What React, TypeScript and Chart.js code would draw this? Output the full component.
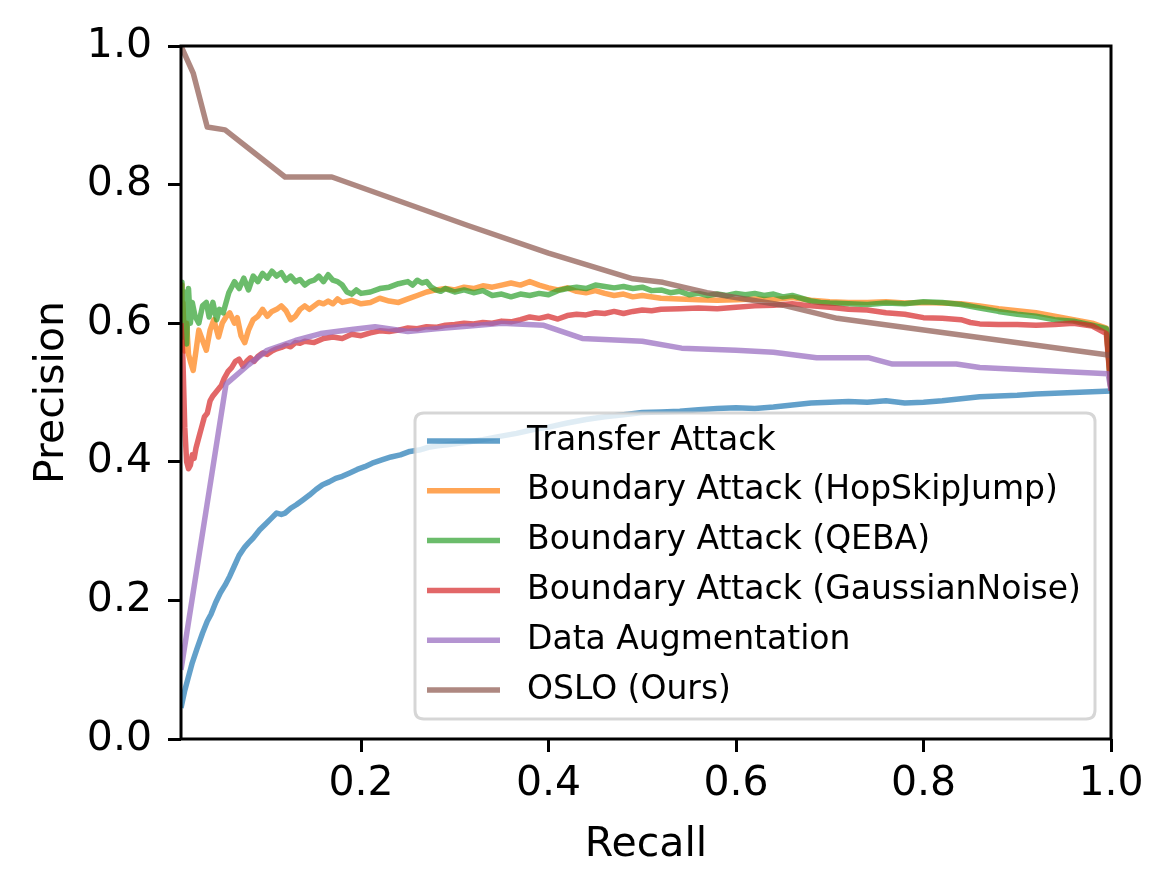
import React, { useEffect, useRef } from "react";
import { Chart, registerables } from "chart.js";

Chart.register(...registerables);

// ---------- data ----------
const seriesLabels = [
  "Transfer Attack",
  "Boundary Attack (HopSkipJump)",
  "Boundary Attack (QEBA)",
  "Boundary Attack (GaussianNoise)",
  "Data Augmentation",
  "OSLO (Ours)",
];

const xTickValues = [0.2, 0.4, 0.6, 0.8, 1.0];
const yTickStep = 0.2;

const transferRecall = [0.008, 0.012, 0.016, 0.02, 0.025, 0.031, 0.036, 0.04, 0.045, 0.05, 0.055, 0.06, 0.065, 0.07, 0.076, 0.08, 0.085, 0.092, 0.098, 0.104, 0.11, 0.115, 0.119, 0.125, 0.131, 0.138, 0.145, 0.152, 0.159, 0.166, 0.173, 0.18, 0.188, 0.196, 0.204, 0.212, 0.223, 0.232, 0.242, 0.252, 0.262, 0.272, 0.282, 0.294, 0.306, 0.316, 0.33, 0.345, 0.366, 0.385, 0.4, 0.42, 0.44, 0.46, 0.48, 0.5, 0.52, 0.54, 0.56, 0.58, 0.6, 0.62, 0.64, 0.66, 0.68, 0.7, 0.72, 0.74, 0.76, 0.78, 0.8, 0.82, 0.84, 0.86, 0.88, 0.9, 0.92, 0.94, 0.96, 0.98, 1.0];
const transferPrecision = [0.045, 0.07, 0.09, 0.11, 0.13, 0.153, 0.17, 0.18, 0.197, 0.211, 0.222, 0.235, 0.25, 0.265, 0.277, 0.283, 0.29, 0.302, 0.31, 0.318, 0.326, 0.324, 0.326, 0.333, 0.338, 0.345, 0.352, 0.36, 0.367, 0.371, 0.376, 0.379, 0.384, 0.389, 0.393, 0.398, 0.403, 0.407, 0.41, 0.415, 0.417, 0.421, 0.423, 0.425, 0.427, 0.429, 0.432, 0.436, 0.441, 0.447, 0.45, 0.456, 0.461, 0.465, 0.468, 0.471, 0.472, 0.473, 0.475, 0.477, 0.478, 0.477, 0.479, 0.482, 0.485, 0.486, 0.487, 0.486, 0.488, 0.485, 0.486, 0.488, 0.491, 0.494, 0.495, 0.496, 0.498, 0.499, 0.5, 0.501, 0.502];

const hsjRecall = [0.008, 0.009, 0.01, 0.012, 0.014, 0.016, 0.018, 0.021, 0.024, 0.027, 0.031, 0.035, 0.039, 0.043, 0.048, 0.052, 0.056, 0.06, 0.065, 0.068, 0.072, 0.076, 0.08, 0.085, 0.09, 0.095, 0.1, 0.105, 0.11, 0.115, 0.12, 0.125, 0.13, 0.135, 0.14, 0.145, 0.15, 0.155, 0.16, 0.165, 0.17, 0.175, 0.18, 0.19, 0.2, 0.21, 0.22, 0.23, 0.24, 0.25, 0.26, 0.27, 0.28, 0.29, 0.3, 0.31, 0.32, 0.33, 0.34, 0.35, 0.36, 0.37, 0.38, 0.39, 0.4, 0.41, 0.42, 0.43, 0.44, 0.45, 0.46, 0.47, 0.48, 0.49, 0.5, 0.52, 0.54, 0.56, 0.58, 0.6, 0.62, 0.64, 0.66, 0.68, 0.7, 0.72, 0.74, 0.76, 0.78, 0.8, 0.82, 0.84, 0.86, 0.88, 0.9, 0.92, 0.94, 0.96, 0.98, 0.995, 1.0];
const hsjPrecision = [0.655, 0.6, 0.63, 0.56, 0.6, 0.555, 0.545, 0.532, 0.56, 0.59, 0.575, 0.561, 0.59, 0.605, 0.58, 0.6, 0.609, 0.615, 0.6, 0.608, 0.582, 0.572, 0.59, 0.605, 0.61, 0.62, 0.61, 0.617, 0.62, 0.625, 0.618, 0.605, 0.61, 0.62, 0.625, 0.62, 0.625, 0.63, 0.628, 0.632, 0.628, 0.635, 0.63, 0.633, 0.628, 0.63, 0.636, 0.632, 0.63, 0.635, 0.64, 0.645, 0.648, 0.65, 0.648, 0.652, 0.65, 0.654, 0.652, 0.655, 0.658, 0.655, 0.66, 0.655, 0.651, 0.648, 0.651, 0.646, 0.644, 0.647, 0.643, 0.64, 0.642, 0.638, 0.64, 0.636, 0.635, 0.634, 0.633, 0.634, 0.635, 0.634, 0.637, 0.633, 0.631, 0.63, 0.63, 0.631, 0.629, 0.63, 0.629, 0.628, 0.625, 0.621, 0.618, 0.615, 0.61, 0.605, 0.6, 0.593, 0.503];

const qebaRecall = [0.008, 0.009, 0.01, 0.012, 0.014, 0.016, 0.018, 0.02, 0.023, 0.027, 0.031, 0.035, 0.038, 0.042, 0.046, 0.049, 0.053, 0.059, 0.065, 0.07, 0.075, 0.08, 0.085, 0.09, 0.095, 0.1, 0.105, 0.11, 0.115, 0.12, 0.125, 0.13, 0.135, 0.14, 0.145, 0.15, 0.155, 0.16, 0.165, 0.17, 0.175, 0.18, 0.185, 0.19, 0.195, 0.2, 0.21, 0.22, 0.23, 0.24, 0.25, 0.255, 0.26, 0.265, 0.27, 0.275, 0.28, 0.285, 0.29, 0.3, 0.31, 0.32, 0.33, 0.34, 0.35, 0.36, 0.37, 0.38, 0.39, 0.4, 0.41, 0.42, 0.43, 0.44, 0.45, 0.46, 0.47, 0.48, 0.49, 0.5, 0.51, 0.52, 0.53, 0.54, 0.55, 0.56, 0.57, 0.58, 0.59, 0.6, 0.61, 0.62, 0.63, 0.64, 0.65, 0.66, 0.67, 0.68, 0.69, 0.7, 0.72, 0.74, 0.76, 0.78, 0.8, 0.82, 0.84, 0.86, 0.88, 0.9, 0.92, 0.94, 0.96, 0.98, 0.995, 1.0];
const qebaPrecision = [0.62, 0.659, 0.58, 0.645, 0.57, 0.65, 0.6, 0.63, 0.61, 0.6, 0.625, 0.63, 0.609, 0.63, 0.605, 0.62, 0.615, 0.644, 0.66, 0.65, 0.665, 0.648, 0.668, 0.66, 0.672, 0.665, 0.675, 0.668, 0.673, 0.662, 0.668, 0.66, 0.663, 0.655, 0.66, 0.662, 0.668, 0.66, 0.67, 0.662, 0.66, 0.655, 0.645, 0.642, 0.648, 0.643, 0.645, 0.65, 0.652, 0.657, 0.66, 0.655, 0.662, 0.658, 0.66, 0.652, 0.648, 0.646, 0.65, 0.645, 0.648, 0.644, 0.647, 0.64, 0.642, 0.638, 0.642, 0.64, 0.643, 0.641, 0.647, 0.65, 0.652, 0.65, 0.655, 0.653, 0.651, 0.653, 0.65, 0.652, 0.647, 0.648, 0.644, 0.646, 0.641, 0.643, 0.64, 0.642, 0.64, 0.643, 0.641, 0.643, 0.64, 0.642, 0.638, 0.64, 0.636, 0.632, 0.63, 0.629, 0.628, 0.627, 0.629, 0.628, 0.631, 0.63, 0.627, 0.622, 0.617, 0.613, 0.61, 0.605, 0.603, 0.597, 0.592, 0.503];

const gaussRecall = [0.008, 0.01, 0.012, 0.014, 0.016, 0.018, 0.02, 0.022, 0.024, 0.026, 0.028, 0.03, 0.033, 0.036, 0.039, 0.042, 0.045, 0.048, 0.051, 0.054, 0.058, 0.062, 0.066, 0.07, 0.074, 0.078, 0.082, 0.086, 0.09, 0.095, 0.1, 0.105, 0.11, 0.115, 0.12, 0.125, 0.13, 0.135, 0.14, 0.15, 0.16, 0.17, 0.18, 0.19, 0.2, 0.21, 0.22, 0.23, 0.24, 0.25, 0.26, 0.27, 0.28, 0.29, 0.3, 0.31, 0.32, 0.33, 0.34, 0.35, 0.36, 0.37, 0.38, 0.39, 0.4, 0.41, 0.42, 0.43, 0.44, 0.45, 0.46, 0.47, 0.48, 0.49, 0.5, 0.51, 0.52, 0.54, 0.56, 0.58, 0.6, 0.62, 0.64, 0.66, 0.68, 0.7, 0.72, 0.74, 0.76, 0.78, 0.8, 0.82, 0.84, 0.85, 0.86, 0.88, 0.9, 0.92, 0.94, 0.96, 0.98, 0.995, 1.0];
const gaussPrecision = [0.6, 0.55, 0.45, 0.4, 0.39, 0.395, 0.41, 0.405, 0.42, 0.43, 0.44, 0.45, 0.465, 0.47, 0.488, 0.495, 0.5, 0.505, 0.51, 0.52, 0.53, 0.536, 0.545, 0.548, 0.538, 0.545, 0.55, 0.545, 0.552, 0.557, 0.555, 0.56, 0.563, 0.565, 0.568, 0.566, 0.572, 0.571, 0.574, 0.572, 0.578, 0.58, 0.578, 0.584, 0.582, 0.586, 0.589, 0.588, 0.59, 0.593, 0.592, 0.595, 0.594, 0.597, 0.598, 0.6, 0.599, 0.601, 0.6, 0.603, 0.602, 0.605, 0.609, 0.607, 0.61, 0.606, 0.611, 0.613, 0.612, 0.615, 0.614, 0.617, 0.614, 0.617, 0.619, 0.618, 0.62, 0.621, 0.622, 0.621, 0.623, 0.625, 0.626, 0.628, 0.625, 0.623, 0.62, 0.619, 0.615, 0.613, 0.608, 0.607, 0.605, 0.601, 0.599, 0.598, 0.598, 0.597, 0.598, 0.6, 0.596, 0.585, 0.503];

const augRecall = [0.008, 0.056, 0.08, 0.1, 0.13, 0.157, 0.19, 0.215, 0.25, 0.28, 0.316, 0.35, 0.395, 0.436, 0.5, 0.542, 0.6, 0.64, 0.686, 0.742, 0.767, 0.835, 0.86, 0.997, 1.0];
const augPrecision = [0.1, 0.512, 0.54, 0.561, 0.575, 0.585, 0.591, 0.595, 0.588, 0.592, 0.596, 0.6, 0.597, 0.578, 0.574, 0.564, 0.561, 0.558, 0.55, 0.55, 0.541, 0.541, 0.536, 0.527, 0.503];

const osloRecall = [0.008, 0.01, 0.021, 0.036, 0.055, 0.119, 0.169, 0.314, 0.4, 0.49, 0.522, 0.569, 0.65, 0.708, 0.997, 1.0];
const osloPrecision = [1.0, 0.994, 0.961, 0.883, 0.879, 0.811, 0.811, 0.741, 0.701, 0.664, 0.659, 0.644, 0.626, 0.607, 0.554, 0.553];

const seriesColors = [
  "rgba(31,119,180,0.7)",
  "rgba(255,127,14,0.7)",
  "rgba(44,160,44,0.7)",
  "rgba(214,39,40,0.7)",
  "rgba(148,103,189,0.7)",
  "rgba(140,86,75,0.7)",
];

const FONT = "'DejaVu Sans', sans-serif";

function pairs(xs: number[], ys: number[]) {
  return xs.map((x, i) => ({ x, y: ys[i] }));
}

const framePlugin = {
  id: "frame",
  afterDatasetsDraw(chart: any) {
    const { ctx, chartArea: a } = chart;
    ctx.save();
    ctx.strokeStyle = "#000";
    ctx.lineWidth = 3;
    ctx.strokeRect(a.left, a.top, a.right - a.left, a.bottom - a.top);
    ctx.restore();
  },
};

const legendPlugin = {
  id: "customLegend",
  afterDraw(chart: any) {
    const { ctx } = chart;
    const boxL = 415, boxT = 413, boxR = 1095, boxB = 719;
    const r = 9;
    ctx.save();
    ctx.beginPath();
    ctx.moveTo(boxL + r, boxT);
    ctx.lineTo(boxR - r, boxT);
    ctx.quadraticCurveTo(boxR, boxT, boxR, boxT + r);
    ctx.lineTo(boxR, boxB - r);
    ctx.quadraticCurveTo(boxR, boxB, boxR - r, boxB);
    ctx.lineTo(boxL + r, boxB);
    ctx.quadraticCurveTo(boxL, boxB, boxL, boxB - r);
    ctx.lineTo(boxL, boxT + r);
    ctx.quadraticCurveTo(boxL, boxT, boxL + r, boxT);
    ctx.closePath();
    ctx.fillStyle = "rgba(255,255,255,0.8)";
    ctx.fill();
    ctx.strokeStyle = "rgba(204,204,204,0.8)";
    ctx.lineWidth = 3;
    ctx.stroke();
    chart.data.datasets.forEach((ds: any, i: number) => {
      const y = 441 + i * 49.8;
      ctx.beginPath();
      ctx.strokeStyle = ds.borderColor;
      ctx.lineWidth = 5.5;
      ctx.lineCap = "butt";
      ctx.moveTo(427, y);
      ctx.lineTo(500, y);
      ctx.stroke();
      ctx.fillStyle = "#000";
      ctx.font = `33px ${FONT}`;
      ctx.textBaseline = "middle";
      ctx.textAlign = "left";
      ctx.fillText(ds.label, 527, y);
    });
    ctx.restore();
  },
};

export default function App() {
  const canvasRef = useRef<HTMLCanvasElement | null>(null);

  useEffect(() => {
    if (!canvasRef.current) return;
    const allX = [transferRecall, hsjRecall, qebaRecall, gaussRecall, augRecall, osloRecall];
    const allY = [transferPrecision, hsjPrecision, qebaPrecision, gaussPrecision, augPrecision, osloPrecision];
    const datasets = seriesLabels.map((label, i) => ({
      label,
      data: pairs(allX[i], allY[i]),
      borderColor: seriesColors[i],
      backgroundColor: seriesColors[i],
      borderWidth: 5.5,
      pointRadius: 0,
      tension: 0,
      fill: false,
      borderJoinStyle: "round" as const,
      borderCapStyle: "butt" as const,
      order: seriesLabels.length - i,
    }));
    const tickFont = { family: FONT, size: 41 };
    const chart = new Chart(canvasRef.current, {
      type: "line",
      data: { datasets },
      options: {
        animation: false,
        responsive: false,
        devicePixelRatio: 1,
        layout: { padding: { top: 46, right: 64, left: 0, bottom: 0 } },
        plugins: { legend: { display: false }, tooltip: { enabled: false } },
        scales: {
          x: {
            type: "linear",
            min: 0.008,
            max: 1.0,
            afterBuildTicks: (axis: any) => {
              axis.ticks = xTickValues.map((v) => ({ value: v }));
            },
            afterFit: (scale: any) => {
              scale.height = 155;
            },
            ticks: {
              font: tickFont,
              color: "#000",
              padding: 8,
              maxRotation: 0,
              autoSkip: false,
              callback: (v: any) => Number(v).toFixed(1),
            },
            grid: {
              drawOnChartArea: false,
              drawTicks: true,
              tickLength: 13,
              tickWidth: 3,
              tickColor: "#000",
            },
            border: { display: false },
            title: {
              display: true,
              text: "Recall",
              color: "#000",
              font: tickFont,
              padding: { top: 0, bottom: 24 },
            },
          },
          y: {
            type: "linear",
            min: 0,
            max: 1,
            afterFit: (scale: any) => {
              scale.width = 181;
            },
            ticks: {
              stepSize: yTickStep,
              font: tickFont,
              color: "#000",
              padding: 16,
              callback: (v: any) => Number(v).toFixed(1),
            },
            grid: {
              drawOnChartArea: false,
              drawTicks: true,
              tickLength: 13,
              tickWidth: 3,
              tickColor: "#000",
            },
            border: { display: false },
            title: {
              display: true,
              text: "Precision",
              color: "#000",
              font: tickFont,
              padding: { top: 28, bottom: 0 },
            },
          },
        },
      },
      plugins: [framePlugin, legendPlugin],
    });
    return () => chart.destroy();
  }, []);

  return (
    <div style={{ position: "absolute", left: 0, top: 0, width: 1175, height: 894, background: "#fff" }}>
      <canvas ref={canvasRef} width={1175} height={894} style={{ width: 1175, height: 894, display: "block" }} />
    </div>
  );
}
